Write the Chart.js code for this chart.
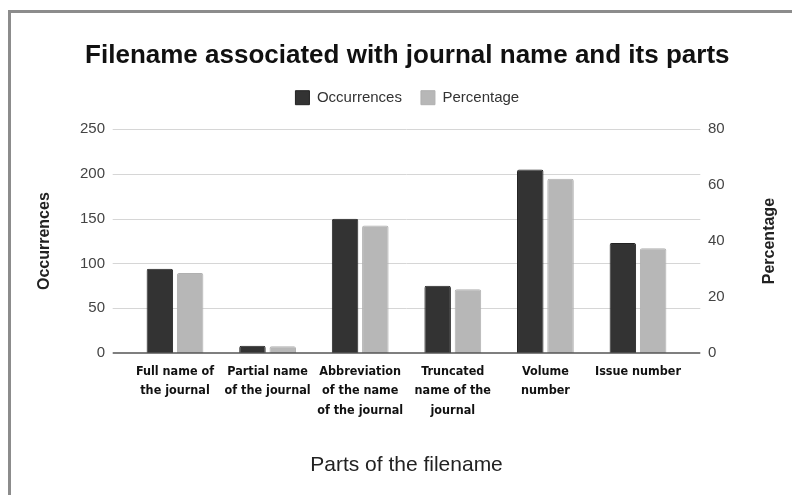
<!DOCTYPE html>
<html>
<head>
<meta charset="utf-8">
<script src="https://cdn.jsdelivr.net/npm/chart.js@4.4.0/dist/chart.umd.min.js"></script>
<style>
  body { margin: 0; background: #fff; }
  #wrap { position: relative; width: 792px; height: 495px; }
  #frame { position: absolute; left: 8px; top: 10px; right: -10px; bottom: -10px;
           border-left: 3px solid #8c8c8c; border-top: 3px solid #8c8c8c; pointer-events: none; }
</style>
</head>
<body>
<div id="wrap">
  <canvas id="chart" width="792" height="495"></canvas>
  <div id="frame"></div>
</div>
<script>
const categories = [
  ["Full name of", "the journal"],
  ["Partial name", "of the journal"],
  ["Abbreviation", "of the name", "of the journal"],
  ["Truncated", "name of the", "journal"],
  ["Volume", "number"],
  ["Issue number"]
];
const occurrences = [94, 8, 150, 75, 205, 123];
const percentage = [28.6, 2.4, 45.6, 22.8, 62.3, 37.4];
const occTicks = [0, 50, 100, 150, 200, 250];
const pctTicks = [0, 20, 40, 60, 80];

// grid lines run a bit past the bars on both sides
const gridPlugin = {
  id: "gridPlugin",
  beforeDatasetsDraw(chart) {
    const { ctx, chartArea } = chart;
    const y = chart.scales.y;
    ctx.save();
    ctx.strokeStyle = "#d6d6d6";
    ctx.lineWidth = 1;
    occTicks.forEach(function (t) {
      if (t === 0) return;
      const py = Math.round(y.getPixelForValue(t)) + 0.5;
      ctx.beginPath();
      ctx.moveTo(chartArea.left - 16, py);
      ctx.lineTo(chartArea.right + 16, py);
      ctx.stroke();
    });
    ctx.restore();
  },
  afterDatasetsDraw(chart) {
    const { ctx, chartArea } = chart;
    const py = chart.scales.y.getPixelForValue(0);
    ctx.save();
    ctx.strokeStyle = "#555";
    ctx.lineWidth = 1.5;
    ctx.beginPath();
    ctx.moveTo(chartArea.left - 16, py);
    ctx.lineTo(chartArea.right + 16, py);
    ctx.stroke();
    ctx.restore();
  },
  afterDraw(chart) {
    // right axis title reads bottom-to-top like the left one
    const { ctx, chartArea } = chart;
    ctx.save();
    ctx.translate(770, (chartArea.top + chartArea.bottom) / 2);
    ctx.rotate(-Math.PI / 2);
    ctx.font = "bold 16px 'Liberation Sans'";
    ctx.fillStyle = "#222";
    ctx.textAlign = "center";
    ctx.textBaseline = "middle";
    ctx.fillText("Percentage", 0, 0);
    ctx.restore();
  }
};

const legendGap = {
  id: "legendGap",
  beforeInit(chart) {
    const fit = chart.legend.fit;
    chart.legend.fit = function () {
      fit.bind(chart.legend)();
      this.height += 14;
    };
  }
};

new Chart(document.getElementById("chart"), {
  type: "bar",
  data: {
    labels: categories,
    datasets: [
      {
        label: "Occurrences",
        data: occurrences,
        backgroundColor: "#333333",
        borderColor: "#222222",
        borderWidth: 1,
        borderRadius: 2,
        borderSkipped: "bottom",
        yAxisID: "y",
        categoryPercentage: 0.654,
        barPercentage: 0.875
      },
      {
        label: "Percentage",
        data: percentage,
        backgroundColor: "#b7b7b7",
        borderColor: "#b0b0b0",
        borderWidth: 1,
        borderRadius: 2,
        borderSkipped: "bottom",
        yAxisID: "y1",
        categoryPercentage: 0.654,
        barPercentage: 0.875
      }
    ]
  },
  options: {
    responsive: false,
    animation: false,
    layout: { padding: { left: 35, right: 12.4, top: 0, bottom: 17.4 } },
    plugins: {
      title: {
        display: true,
        text: "Filename associated with journal name and its parts",
        color: "#111",
        font: { family: "Liberation Sans", size: 26, weight: "bold" },
        padding: { top: 40, bottom: 0 }
      },
      legend: {
        labels: {
          boxWidth: 14,
          boxHeight: 14,
          padding: 19,
          color: "#333",
          font: { family: "Liberation Sans", size: 15 }
        }
      },
      tooltip: { enabled: false }
    },
    scales: {
      x: {
        grid: { display: false, drawTicks: false },
        border: { display: false },
        ticks: {
          padding: 9,
          color: "#111",
          maxRotation: 0,
          autoSkip: false,
          font: { family: "'Liberation Sans Narrow', 'DejaVu Sans Condensed'", size: 12.5, weight: "bold", lineHeight: 1.55 }
        },
        title: {
          display: true,
          text: "Parts of the filename",
          color: "#222",
          padding: 0,
          font: { family: "Liberation Sans", size: 21 }
        },
        afterFit: function (s) { s.height = 124.6; }
      },
      y: {
        position: "left",
        min: occTicks[0],
        max: occTicks[occTicks.length - 1],
        grid: { display: false, drawTicks: false },
        border: { display: false },
        ticks: {
          stepSize: 50,
          padding: 23.7,
          color: "#444",
          font: { family: "Liberation Sans", size: 15 }
        },
        title: {
          display: true,
          text: "Occurrences",
          color: "#222",
          padding: 0,
          font: { family: "Liberation Sans", size: 16, weight: "bold" }
        },
        afterFit: function (s) { s.width = 93.7; }
      },
      y1: {
        position: "right",
        min: pctTicks[0],
        max: pctTicks[pctTicks.length - 1],
        grid: { display: false, drawTicks: false },
        border: { display: false },
        ticks: {
          stepSize: 20,
          padding: 23.7,
          color: "#444",
          font: { family: "Liberation Sans", size: 15 }
        },
        title: { display: false },
        afterFit: function (s) { s.width = 95.3; }
      }
    }
  },
  plugins: [gridPlugin, legendGap]
});
</script>
</body>
</html>
